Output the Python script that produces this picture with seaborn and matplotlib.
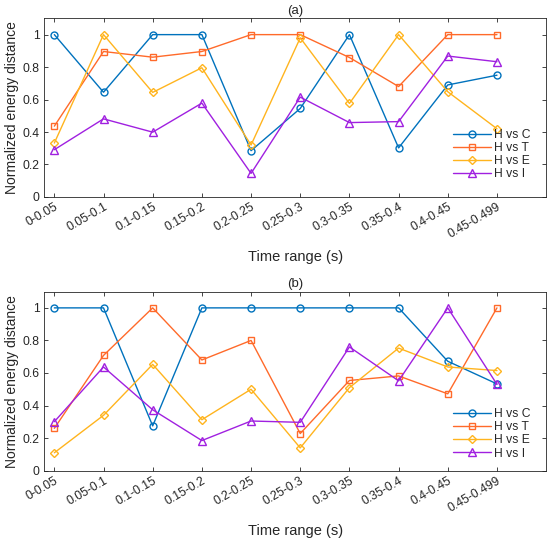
import matplotlib
matplotlib.use("Agg")
import matplotlib.pyplot as plt
import seaborn as sns
import numpy as np

# Data
time_ranges = ["0-0.05", "0.05-0.1", "0.1-0.15", "0.15-0.2", "0.2-0.25",
               "0.25-0.3", "0.3-0.35", "0.35-0.4", "0.4-0.45", "0.45-0.499"]
series_names = ["H vs C", "H vs T", "H vs E", "H vs I"]

a_hc = [1.0, 0.645, 1.0, 1.0, 0.285, 0.545, 1.0, 0.302, 0.69, 0.75]
a_ht = [0.436, 0.896, 0.861, 0.896, 1.0, 1.0, 0.859, 0.68, 1.0, 1.0]
a_he = [0.332, 1.0, 0.644, 0.796, 0.32, 0.98, 0.576, 1.0, 0.648, 0.42]
a_hi = [0.291, 0.481, 0.399, 0.578, 0.145, 0.615, 0.458, 0.464, 0.868, 0.833]

b_hc = [1.0, 1.0, 0.275, 1.0, 1.0, 1.0, 1.0, 1.0, 0.672, 0.533]
b_ht = [0.26, 0.708, 1.0, 0.68, 0.8, 0.228, 0.554, 0.582, 0.472, 1.0]
b_he = [0.11, 0.34, 0.653, 0.313, 0.5, 0.14, 0.51, 0.753, 0.637, 0.615]
b_hi = [0.301, 0.637, 0.374, 0.185, 0.305, 0.297, 0.76, 0.552, 1.0, 0.53]

colors = ["#0072BD", "#FF6A2A", "#FFB41E", "#A020E0"]
markers = ["o", "s", "D", "^"]
msizes = [5, 4.5, 4.5, 5.5]

sns.set_style("white")
plt.rcParams["font.family"] = ["Liberation Sans", "DejaVu Sans"]

fig = plt.figure(figsize=(5.5, 5.41), dpi=100)
ax_a = fig.add_axes([0.080, 0.636, 0.913, 0.330])
ax_b = fig.add_axes([0.080, 0.130, 0.913, 0.331])

x = np.arange(1, len(time_ranges) + 1)

panels = [(ax_a, [a_hc, a_ht, a_he, a_hi], "(a)", 0.045),
          (ax_b, [b_hc, b_ht, b_he, b_hi], "(b)", 0.015)]

for ax, data, title, leg_y in panels:
    for vals, name, c, m, ms in zip(data, series_names, colors, markers, msizes):
        sns.lineplot(x=x, y=vals, ax=ax, color=c, marker=m, markersize=ms,
                     markerfacecolor="none", markeredgecolor=c,
                     markeredgewidth=1.0, linewidth=1.0, label=name)
    ax.set_xlim(0.79, 11.0)
    ax.set_ylim(0, 1.1)
    ax.set_xticks(x)
    ax.set_xticklabels(time_ranges, rotation=30, ha="right",
                       rotation_mode="anchor", fontsize=8.7)
    yt = [0, 0.2, 0.4, 0.6, 0.8, 1.0]
    ax.set_yticks(yt)
    ax.set_yticklabels(["%g" % v for v in yt], fontsize=8.7)
    ax.tick_params(direction="in", length=3, width=0.6, colors="#262626",
                   top=True, right=True, bottom=True, left=True, pad=3)
    for sp in ax.spines.values():
        sp.set_visible(True)
        sp.set_color("#262626")
        sp.set_linewidth(0.6)
    ax.set_title(title, fontsize=9.5, pad=3)
    ax.set_xlabel("Time range (s)", fontsize=10.5, labelpad=7)
    ax.set_ylabel("Normalized energy distance", fontsize=10, labelpad=3)
    ax.legend(loc="lower right", frameon=False, fontsize=8.7,
              handlelength=3.1, handletextpad=0.25, labelspacing=0.1,
              borderaxespad=0.3, bbox_to_anchor=(0.985, leg_y))

fig.savefig("out.png", dpi=100)
